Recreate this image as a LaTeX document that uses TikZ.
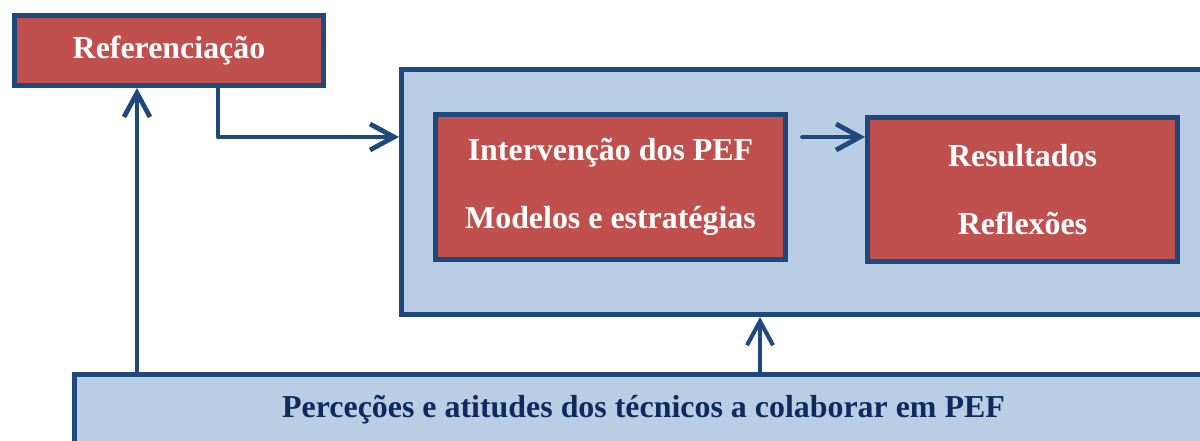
\documentclass[tikz,border=0pt]{standalone}
\usepackage{color}
\usepackage{fontspec}
\setmainfont{Liberation Serif}
\usepackage{tikz}
\usetikzlibrary{arrows.meta}

\definecolor{boxred}{HTML}{C0504D}
\definecolor{boxblue}{HTML}{B9CDE5}
\definecolor{edgeblue}{HTML}{1F497D}
\definecolor{textnavy}{HTML}{10295E}

\begin{document}
\begin{tikzpicture}[
    redbox/.style={draw=edgeblue, line width=3.5pt, fill=boxred, text=white,
      font=\bfseries\fontsize{22.7}{48.4}\selectfont, align=center, inner sep=0pt},
    bluebox/.style={draw=edgeblue, line width=3.5pt, fill=boxblue, inner sep=0pt,
      text=textnavy, font=\bfseries\fontsize{22.7}{27}\selectfont},
    link/.style={draw=edgeblue, line width=3.4pt, line cap=round, line join=round,
      -{Straight Barb[length=0.6cm,width=0.65cm]}}
  ]
  \useasboundingbox (0,0) rectangle (30,11);

  \node[redbox, minimum width=7.725cm, minimum height=1.75cm]
    (ref) at (4.225,9.7375) {Referenciação};
  \node[bluebox, minimum width=20.45cm, minimum height=6.125cm]
    (core) at (20.2625,6.2) {};
  \node[redbox, minimum width=8.75cm, minimum height=3.625cm]
    (interv) at (15.2625,6.325) {Intervenção dos PEF\\Modelos e estratégias};
  \node[redbox, minimum width=7.75cm, minimum height=3.6cm]
    (result) at (25.5625,6.2625) {Resultados\\Reflexões};
  \node[bluebox, minimum width=28.45cm, minimum height=1.775cm]
    (perc) at (16.0875,0.75) {Perceções e atitudes dos técnicos a colaborar em PEF};

  \coordinate (refin) at ([xshift=-0.8cm]ref.south);
  \coordinate (coreup) at ([xshift=-1.2625cm]core.south);

  \draw[link]
    ([xshift=1.225cm]ref.south)
    |-
    ([yshift=1.375cm]core.west);
  \draw[link, shorten <=0.3625cm]
    ([yshift=1.25cm]interv.east)
    --
    ([yshift=1.25cm]interv.east -| result.west);
  \draw[link]
    (refin |- perc.north)
    --
    (refin);
  \draw[link, line width=2.9pt]
    (coreup |- perc.north)
    --
    (coreup);
\end{tikzpicture}
\end{document}
